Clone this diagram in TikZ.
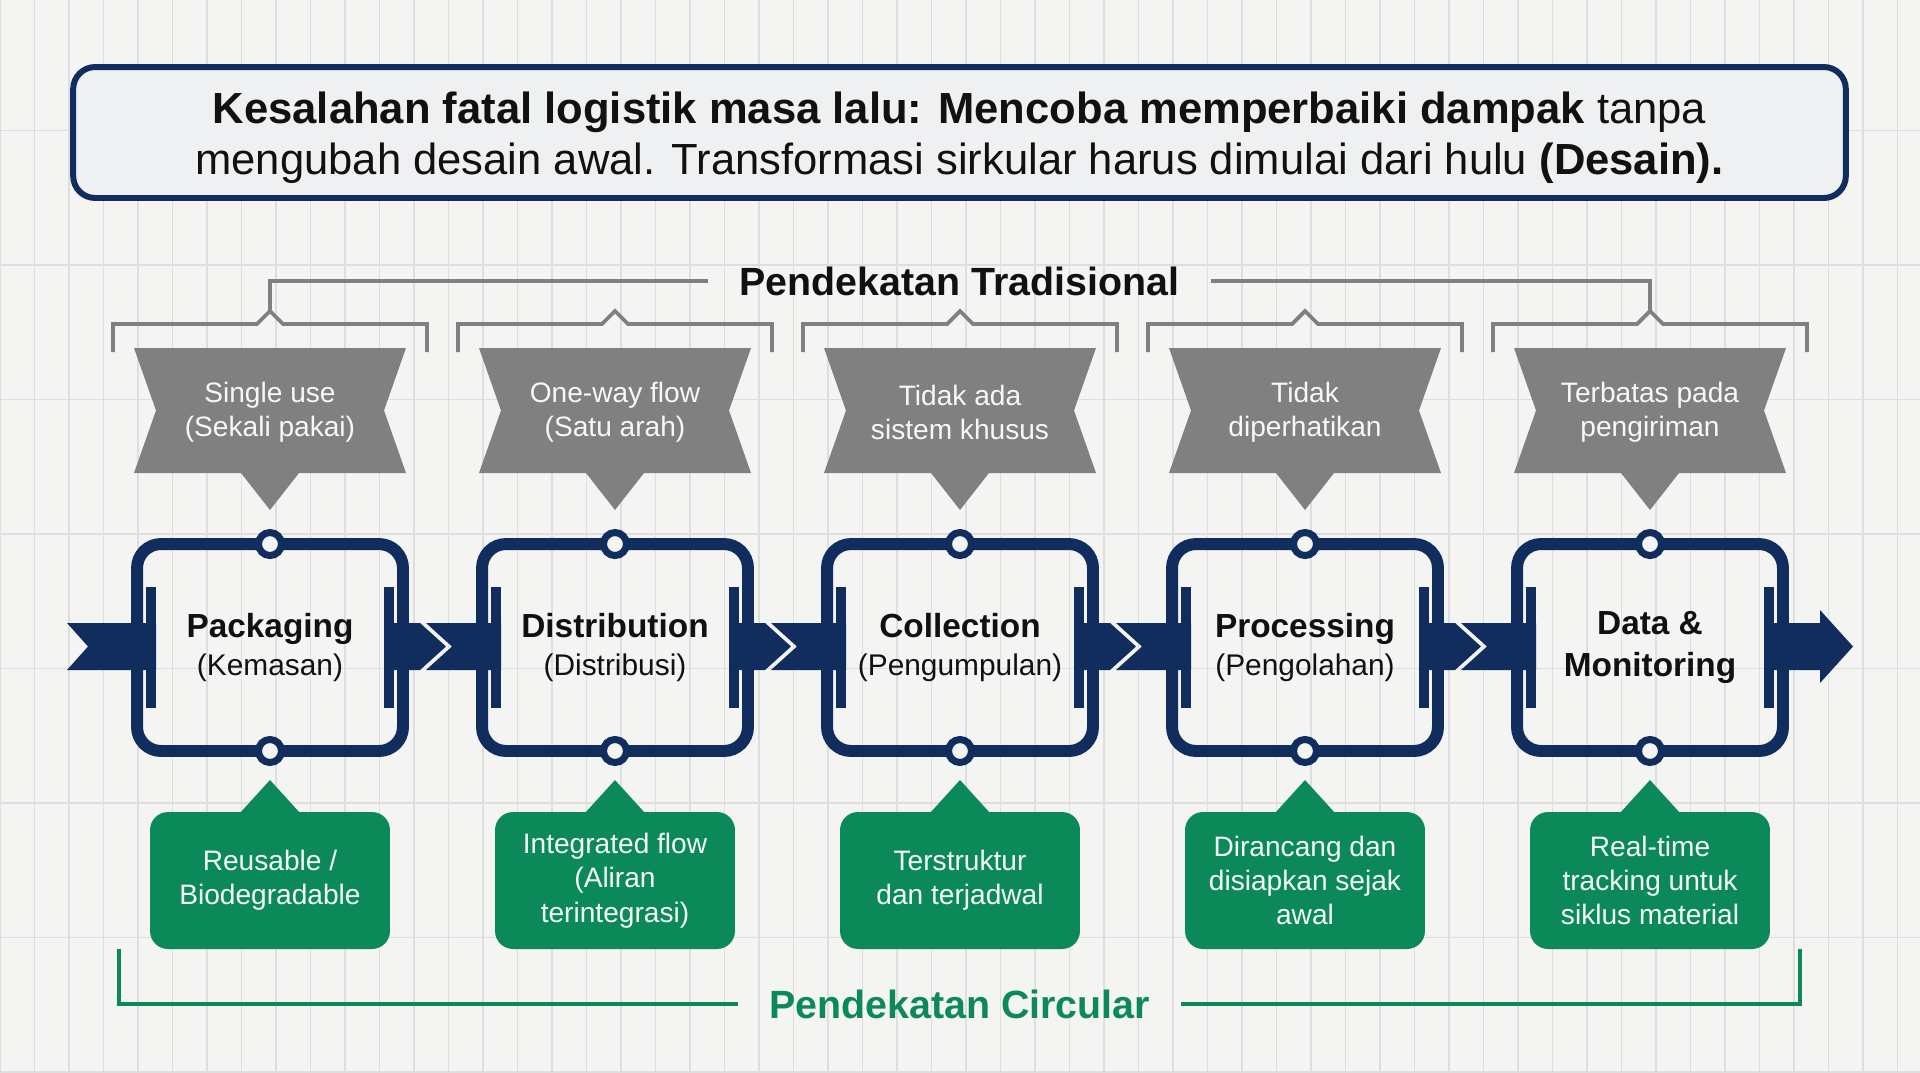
\documentclass[tikz,border=0pt]{standalone}
\usepackage{fontspec}
\setmainfont{Liberation Sans}
\usetikzlibrary{positioning}

\definecolor{fond}{RGB}{244,244,242}
\definecolor{grille}{RGB}{222,222,222}
\definecolor{marine}{RGB}{16,45,94}
\definecolor{gris}{RGB}{128,128,128}
\definecolor{vert}{RGB}{12,137,89}
\definecolor{encre}{RGB}{17,17,17}
\definecolor{cadre}{RGB}{238,240,242}

\newcommand{\stagename}[1]{{\bfseries\fontsize{19}{23.5}\selectfont #1}}

\tikzset{
  gridline/.style={grille, line width=0.8pt},
  stagebox/.style={draw=marine, line width=6.8pt, rounded corners=0.48cm, outer sep=0pt,
    minimum width=5.32cm, minimum height=4.14cm, align=center, text=encre,
    font=\fontsize{17}{22}\selectfont},
  port/.style={circle, draw=marine, fill=fond, line width=4pt, inner sep=0pt, minimum size=0.46cm},
  bracket/.style={gris, line width=2.2pt},
  ribbontext/.style={text=white!94!gris, align=center, font=\fontsize{16}{19.4}\selectfont},
  greenbox/.style={fill=vert, rounded corners=0.36cm, minimum width=4.8cm, minimum height=2.74cm,
    text=white!95!vert, align=center, font=\fontsize{16}{19.6}\selectfont},
  circline/.style={vert, line width=2.2pt},
  headline/.style={font=\bfseries\fontsize{22.4}{27}\selectfont, inner xsep=0.62cm}
}

\begin{document}
\begin{tikzpicture}[x=0.02cm, y=-0.02cm]
  % Fond quadrille
  \fill[fond] (0,0) rectangle (1920,1072);
  \useasboundingbox (0,0) rectangle (1920,1072);
  \foreach \x in {0,34.5,...,1920} \draw[gridline] (\x,0) -- (\x,1072);
  \foreach \y in {130.5,265,...,1072} \draw[gridline] (0,\y) -- (1920,\y);
  % Message du haut
  \node[draw=marine, line width=3.4pt, fill=cadre, rounded corners=0.44cm,
    minimum width=35.46cm, minimum height=2.62cm] (msg) at (959.5,132.5) {};
  \node[align=center, text=encre, font=\fontsize{24.8}{29.2}\selectfont] (msgtxt)
    at ([yshift=-0.11cm]msg.center)
    {{\bfseries Kesalahan fatal logistik masa lalu: Mencoba memperbaiki dampak} tanpa\\
     mengubah desain awal. Transformasi sirkular harus dimulai dari hulu {\bfseries (Desain).}};
  % Pendekatan tradisional
  \node[headline, text=encre] (trad) at (959.5,281) {Pendekatan Tradisional};
  \draw[bracket] (270,311) |- (trad.west);
  \draw[bracket] (1650,311) |- (trad.east);
  % Les cinq etapes
  \foreach \i/\lab/\rtxt/\gtxt in {
    1/{\stagename{Packaging}\\(Kemasan)}/{Single use\\(Sekali pakai)}/{Reusable /\\Biodegradable},
    2/{\stagename{Distribution}\\(Distribusi)}/{One-way flow\\(Satu arah)}/{Integrated flow\\(Aliran\\terintegrasi)},
    3/{\stagename{Collection}\\(Pengumpulan)}/{Tidak ada\\sistem khusus}/{Terstruktur\\dan terjadwal},
    4/{\stagename{Processing}\\(Pengolahan)}/{Tidak\\diperhatikan}/{Dirancang dan\\disiapkan sejak\\awal},
    5/{\stagename{Data \&}\\[2pt]\stagename{Monitoring}}/{Terbatas pada\\pengiriman}/{Real-time\\tracking untuk\\siklus material}} {
    \pgfmathsetmacro\cx{270+345*(\i-1)}
    % accolade grise
    \draw[bracket] (\cx-157,352) -- (\cx-157,324) -- (\cx-13,324) -- (\cx,311)
      -- (\cx+13,324) -- (\cx+157,324) -- (\cx+157,352);
    % ruban gris
    \fill[gris] (\cx-136,348) -- (\cx+136,348) -- (\cx+114,410.5) -- (\cx+136,473)
      -- (\cx+29,473) -- (\cx,510) -- (\cx-29,473) -- (\cx-136,473) -- (\cx-114,410.5) -- cycle;
    \node[ribbontext] (r\i) at (\cx,412) {\rtxt};
    % boite de l'etape
    \node[stagebox] (s\i) at (\cx,647.5) {\lab};
    \fill[marine] (\cx-124,587) rectangle (\cx-114,708);
    \fill[marine] (\cx+114,587) rectangle (\cx+124,708);
    \node[port] (pn\i) at (s\i.north) {};
    \node[port] (ps\i) at (s\i.south) {};
    % bulle verte
    \fill[vert] (\cx-30,813) -- (\cx,780) -- (\cx+30,813) -- cycle;
    \node[greenbox] (g\i) at (\cx,880.5) {\gtxt};
  }
  % Fleches du flux
  \fill[marine] (67,623) -- (156,623) -- (156,670) -- (67,670) -- (88,646.5) -- cycle;
  \foreach \i in {1,...,4} {
    \pgfmathsetmacro\cx{270+345*(\i-1)}
    \fill[marine] (\cx+114,623) -- (\cx+150,623) -- (\cx+176,646.5) -- (\cx+150,670)
      -- (\cx+114,670) -- cycle;
    \fill[marine] (\cx+156,623) -- (\cx+231,623) -- (\cx+231,670) -- (\cx+156,670)
      -- (\cx+182,646.5) -- cycle;
  }
  \fill[marine] (1764,623) -- (1820,623) -- (1820,610) -- (1853,646.5) -- (1820,683)
    -- (1820,670) -- (1764,670) -- cycle;
  % Pendekatan circular
  \node[headline, text=vert] (circ) at (959.5,1004) {Pendekatan Circular};
  \draw[circline] (119,949) |- (circ.west);
  \draw[circline] (1800,949) |- (circ.east);
\end{tikzpicture}
\end{document}
